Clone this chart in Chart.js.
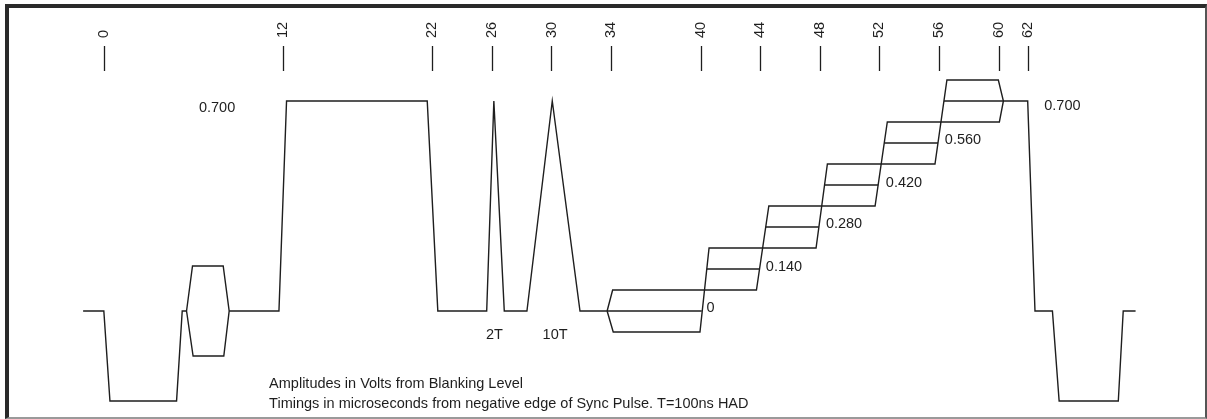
<!DOCTYPE html>
<html>
<head>
<meta charset="utf-8">
<script src="https://cdn.jsdelivr.net/npm/chart.js@4.4.1/dist/chart.umd.min.js"></script>
<style>
    html, body { margin: 0; padding: 0; background: #fff; }
    #frame {
        position: absolute; left: 5px; top: 4px; width: 1202px; height: 415px;
        box-sizing: border-box;
        border-left: 4px solid #2a2a2a; border-top: 4px solid #2a2a2a;
        border-right: 2px solid #555; border-bottom: 2px solid #9a9a9a;
    }
    #wrap { position: absolute; left: 0; top: 0; width: 1207px; height: 419px; }
</style>
</head>
<body>
<div id="frame"></div>
<div id="wrap"><canvas id="signalChart" width="1207" height="419"></canvas></div>
<script>
// timings in microseconds, amplitudes in volts from blanking level
const tickLabels = [0, 12, 22, 26, 30, 34, 40, 44, 48, 52, 56, 60, 62];

// sync pulse up to the colour burst
const syncInT = [-1.46, -0.07, 0.34, 4.81, 5.19, 5.48];
const syncInV = [0, 0, -0.3, -0.3, 0, 0];

// colour burst packet
const burstT = [5.48, 5.88, 7.94, 8.34, 7.98, 5.92, 5.48];
const burstV = [0, 0.15, 0.15, 0, -0.15, -0.15, 0];

// white bar, 2T pulse, 10T pulse, first step of staircase
const pulseT = [8.34, 11.68, 12.19, 21.63, 22.34, 25.62, 26.1, 26.8, 28.32, 30.02, 31.88, 33.7, 40.05];
const pulseV = [0, 0, 0.7, 0.7, 0, 0, 0.7, 0, 0, 0.7, 0, 0, 0];

// luminance steps 1..4
const stepStart = [40.39, 44.34, 48.29, 52.3];
const stepEnd = [43.93, 47.91, 51.89, 55.9];
const stepLevel = [0.14, 0.28, 0.42, 0.56];

// last step and the next sync pulse
const syncOutT = [56.3, 61.92, 62.41, 63.58, 64.03, 68.0, 68.33, 69.16];
const syncOutV = [0.7, 0.7, 0, 0, -0.3, -0.3, 0, 0];

// modulated staircase outline (chroma envelope)
const chromaT = [33.7, 34.07, 43.72, 44.55, 51.68, 52.5, 60.02, 60.29, 59.95, 56.5, 55.7, 48.48, 47.72, 40.54, 39.93, 34.11, 33.7];
const chromaV = [0, 0.07, 0.07, 0.35, 0.35, 0.63, 0.63, 0.70, 0.77, 0.77, 0.49, 0.49, 0.21, 0.21, -0.07, -0.07, 0];

// text on the drawing
const noteText = ['0.700', '2T', '10T', '0', '0.140', '0.280', '0.420', '0.560', '0.700',
    'Amplitudes in Volts from Blanking Level',
    'Timings in microseconds from negative edge of Sync Pulse. T=100ns HAD'];
const noteT = [6.31, 25.57, 29.37, 40.37, 44.35, 48.38, 52.4, 56.36, 63.03, 11.02, 11.02];
const noteV = [0.665, -0.094, -0.094, -0.002, 0.135, 0.276, 0.415, 0.556, 0.67, -0.258, -0.324];

const INK = '#1e1e1e';
const FONT = "'Liberation Sans', Arial, Helvetica, sans-serif";

function toPoints(ts, vs) {
    return ts.map((t, i) => ({ x: t, y: vs[i] }));
}

function stepPoints() {
    const pts = [];
    stepLevel.forEach((v, i) => {
        pts.push({ x: stepStart[i], y: v });
        pts.push({ x: stepEnd[i], y: v });
        pts.push({ x: stepEnd[i], y: null });
    });
    return pts;
}

function traceSet(points) {
    return {
        data: points,
        borderColor: INK,
        borderWidth: 1.4,
        pointRadius: 0,
        tension: 0,
        fill: false,
        spanGaps: false
    };
}

const notesPlugin = {
    id: 'notes',
    afterDatasetsDraw(chart) {
        const ctx = chart.ctx;
        const xs = chart.scales.x;
        const ys = chart.scales.y;
        ctx.save();
        ctx.fillStyle = INK;
        ctx.font = '14.5px ' + FONT;
        ctx.textAlign = 'left';
        ctx.textBaseline = 'alphabetic';
        noteText.forEach((txt, i) => {
            ctx.fillText(txt, xs.getPixelForValue(noteT[i]), ys.getPixelForValue(noteV[i]));
        });
        ctx.restore();
    }
};

document.addEventListener('DOMContentLoaded', function() {
    const ctx = document.getElementById('signalChart').getContext('2d');
    new Chart(ctx, {
        type: 'line',
        data: {
            datasets: [
                traceSet(toPoints(syncInT, syncInV)),
                traceSet(toPoints(burstT, burstV)),
                traceSet(toPoints(pulseT, pulseV)),
                traceSet(stepPoints()),
                traceSet(toPoints(syncOutT, syncOutV)),
                traceSet(toPoints(chromaT, chromaV))
            ]
        },
        options: {
            responsive: false,
            animation: false,
            devicePixelRatio: 1,
            layout: { padding: { left: 8, right: 3, top: 0, bottom: 3 } },
            plugins: {
                legend: { display: false },
                tooltip: { enabled: false }
            },
            scales: {
                x: {
                    type: 'linear',
                    position: 'top',
                    min: -6.5,
                    max: 73.75,
                    afterBuildTicks: scale => {
                        scale.ticks = tickLabels.map(v => ({ value: v }));
                    },
                    afterFit: scale => { scale.height = 71; },
                    border: { display: false },
                    grid: {
                        drawOnChartArea: false,
                        drawTicks: true,
                        tickLength: 25,
                        tickColor: INK,
                        tickWidth: 1.3
                    },
                    ticks: {
                        autoSkip: false,
                        minRotation: 90,
                        maxRotation: 90,
                        padding: 8,
                        labelOffset: 17,
                        color: INK,
                        font: { family: FONT, size: 14.5 },
                        callback: v => String(v)
                    }
                },
                y: {
                    display: false,
                    min: -0.35,
                    max: 0.8
                }
            }
        },
        plugins: [notesPlugin]
    });
});
</script>
</body>
</html>
